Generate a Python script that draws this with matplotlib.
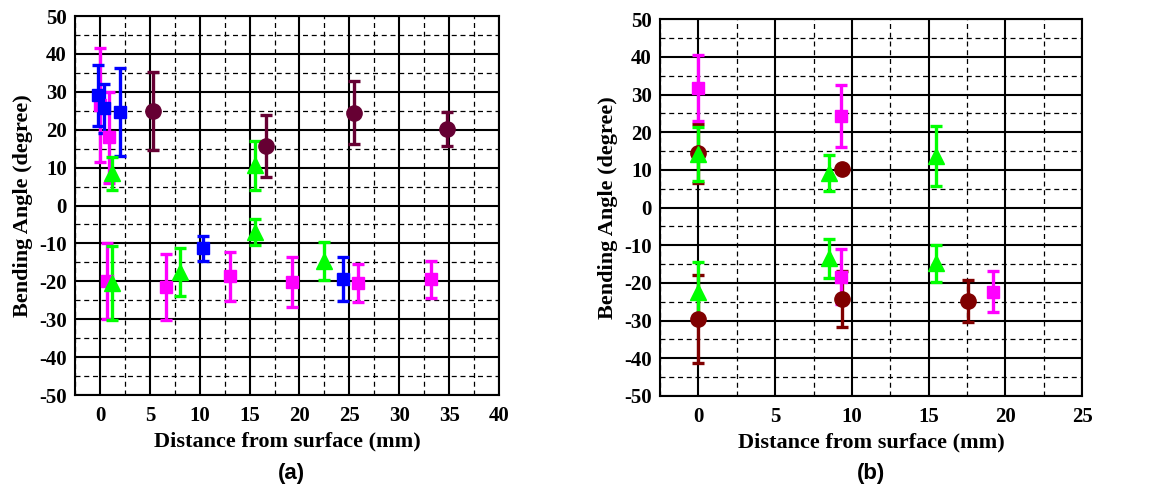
import matplotlib
matplotlib.use("Agg")
import matplotlib.pyplot as plt
from matplotlib.ticker import MultipleLocator

plt.rcParams["axes.unicode_minus"] = False

# ---- Panel (a) data ----
a_mag_x = [0.0, 0.9, 0.7, 6.6, 13.0, 19.3, 25.9, 33.2]
a_mag_y = [26.5, 18.0, -20.0, -21.5, -18.7, -20.1, -20.4, -19.5]
a_mag_e = [15.0, 12.0, 10.0, 8.6, 6.5, 6.6, 5.0, 4.9]

a_blu_x = [-0.2, 0.4, 2.0, 10.3, 24.4]
a_blu_y = [29.1, 25.6, 24.7, -11.3, -19.3]
a_blu_e = [8.0, 6.4, 11.6, 3.3, 5.8]

a_grn_x = [1.2, 1.2, 8.0, 15.5, 15.5, 22.5]
a_grn_y = [8.5, -20.4, -17.5, 10.6, -7.0, -14.6]
a_grn_e = [4.4, 9.7, 6.3, 6.4, 3.5, 5.0]

a_pur_x = [5.3, 16.6, 25.5, 34.8]
a_pur_y = [25.0, 15.8, 24.5, 20.1]
a_pur_e = [10.3, 8.2, 8.4, 4.5]

# ---- Panel (b) data ----
b_mag_x = [0.0, 9.3, 9.3, 19.2]
b_mag_y = [31.8, 24.3, -18.3, -22.3]
b_mag_e = [8.7, 8.3, 7.4, 5.5]

b_red_x = [0.0, 9.35, 0.0, 9.35, 17.6]
b_red_y = [14.4, 10.2, -29.5, -24.2, -24.8]
b_red_e = [7.8, 0.8, 11.7, 7.5, 5.5]

b_grn_x = [0.0, 8.5, 15.5, 0.0, 8.5, 15.5]
b_grn_y = [14.2, 9.2, 13.7, -22.3, -13.4, -14.8]
b_grn_e = [7.2, 4.8, 8.0, 8.0, 5.2, 5.0]

x_label = "Distance from surface (mm)"
y_label = "Bending Angle (degree)"

serif = ["Liberation Serif", "DejaVu Serif"]

fig = plt.figure(figsize=(11.58, 4.91), dpi=100)
ax_a = fig.add_axes([0.0648, 0.1955, 0.3661, 0.7719])
ax_b = fig.add_axes([0.570, 0.1935, 0.3644, 0.7672])


def eb(ax, x, y, e, color, marker, ms):
    ax.errorbar(x, y, yerr=e, fmt=marker, color=color, ecolor=color,
                ms=ms, elinewidth=2.4, capsize=4, capthick=2.4,
                mec=color, zorder=5)


def style(ax, xmax):
    ax.set_xlim(-2.5, xmax)
    ax.set_ylim(-50, 50)
    ax.xaxis.set_major_locator(MultipleLocator(5))
    ax.xaxis.set_minor_locator(MultipleLocator(2.5))
    ax.yaxis.set_major_locator(MultipleLocator(10))
    ax.yaxis.set_minor_locator(MultipleLocator(5))
    ax.grid(which="major", color="black", lw=1.5, ls="-", zorder=0)
    ax.grid(which="minor", color="black", lw=0.9, ls=(0, (4, 3)), zorder=0)
    ax.set_axisbelow(True)
    ax.tick_params(which="both", length=0)
    ax.tick_params(axis="x", pad=8)
    ax.tick_params(axis="y", pad=6)
    for sp in ax.spines.values():
        sp.set_linewidth(1.5)
    for lab in ax.get_xticklabels() + ax.get_yticklabels():
        lab.set_family(serif)
        lab.set_fontweight("bold")
        lab.set_fontsize(15)
    ax.set_xlabel(x_label, family=serif, fontweight="bold", fontsize=16, labelpad=4)
    ax.set_ylabel(y_label, family=serif, fontweight="bold", fontsize=16, labelpad=4)


eb(ax_a, a_mag_x, a_mag_y, a_mag_e, "#FF00FF", "s", 9)
eb(ax_a, a_blu_x, a_blu_y, a_blu_e, "#0000FF", "s", 9)
eb(ax_a, a_grn_x, a_grn_y, a_grn_e, "#00FF00", "^", 11)
eb(ax_a, a_pur_x, a_pur_y, a_pur_e, "#660033", "o", 11)
style(ax_a, 40)

eb(ax_b, b_red_x, b_red_y, b_red_e, "#800000", "o", 11)
eb(ax_b, b_mag_x, b_mag_y, b_mag_e, "#FF00FF", "s", 9)
eb(ax_b, b_grn_x, b_grn_y, b_grn_e, "#00FF00", "^", 11)
style(ax_b, 25)

fig.text(0.252, 0.035, "(a)", ha="center", va="center", fontsize=16,
         fontweight="bold", family=["Liberation Sans", "DejaVu Sans"])
fig.text(0.752, 0.035, "(b)", ha="center", va="center", fontsize=16,
         fontweight="bold", family=["Liberation Sans", "DejaVu Sans"])

fig.savefig("out.png", dpi=100)
